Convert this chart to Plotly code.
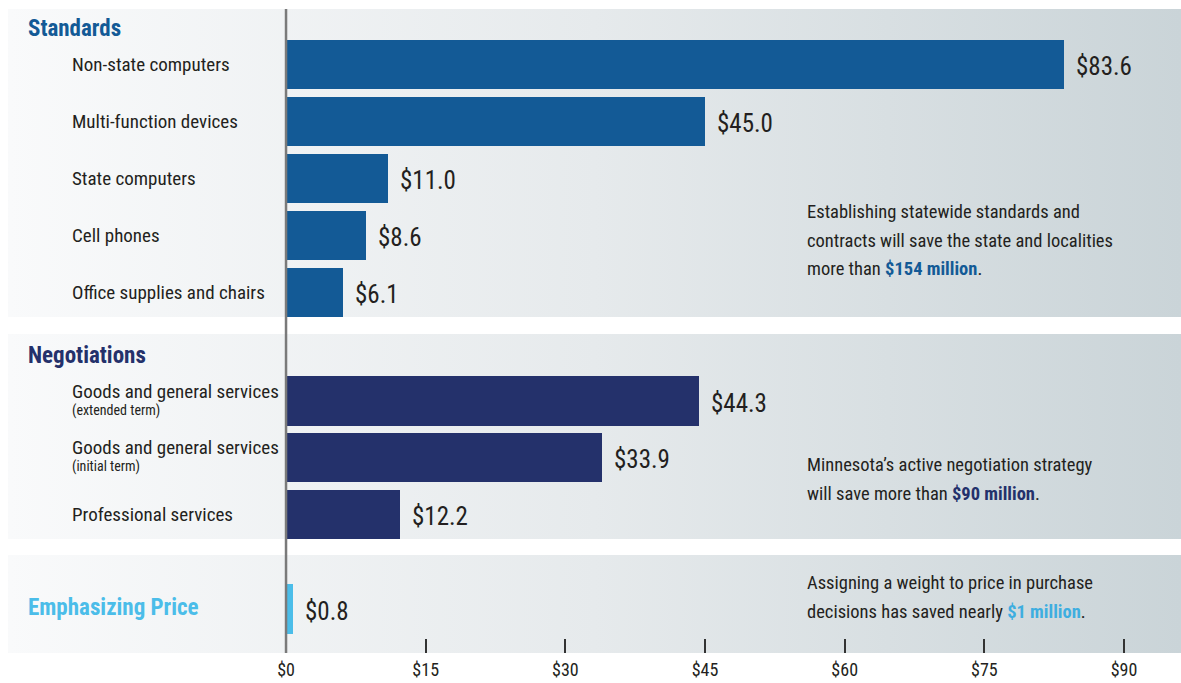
import plotly.graph_objects as go

# ---------------- data ----------------
standards_labels = ["Non-state computers", "Multi-function devices", "State computers",
                    "Cell phones", "Office supplies and chairs"]
standards_values = [83.6, 45.0, 11.0, 8.6, 6.1]

negotiation_labels = ["Goods and general services", "Goods and general services",
                      "Professional services"]
negotiation_sublabels = ["(extended term)", "(initial term)", ""]
negotiation_values = [44.3, 33.9, 12.2]

price_values = [0.8]

tick_values = [0, 15, 30, 45, 60, 75, 90]
tick_labels = ["$0", "$15", "$30", "$45", "$60", "$75", "$90"]

group_titles = ["Standards", "Negotiations", "Emphasizing Price"]
group_notes = [
    ["Establishing statewide standards and",
     "contracts will save the state and localities",
     "more than <b><span style='color:#135a96'>$154 million</span></b>."],
    ["Minnesota\u2019s active negotiation strategy",
     "will save more than <b><span style='color:#24316b'>$90 million</span></b>."],
    ["Assigning a weight to price in purchase",
     "decisions has saved nearly <b><span style='color:#3eaee0'>$1 million</span></b>."],
]

# ---------------- style / layout ----------------
W, H = 1181, 683
FONT = "Liberation Sans Narrow, Roboto Condensed, Arial Narrow, sans-serif"
C_STD, C_NEG, C_PRICE = "#135a96", "#24316b", "#4bbde9"
TXT = "#231f20"

X_MIN, X_MAX = -30.72, 96.12
Y_TOP, Y_BOT = -1.14, 10.316
# row positions (in row units)
std_pos = [0, 1, 2, 3, 4]
neg_pos = [5.895, 6.886, 7.886]
price_pos = [9.544]
title_pos = [-0.632, 5.105, 9.51]
panel_spans = [(-0.982, 4.42), (4.72, 8.316), (8.596, Y_BOT)]
note_pos = [[2.58, 3.09, 3.58], [7.02, 7.53], [9.09, 9.6]]

fig = go.Figure()

# gradient panels (base subplot, drawn underneath)
panel_left = X_MIN + 8 / (W / (X_MAX - X_MIN))
for (y0, y1) in panel_spans:
    fig.add_trace(go.Scatter(
        x=[panel_left, X_MAX, X_MAX, panel_left, panel_left],
        y=[y0, y0, y1, y1, y0],
        mode="none", fill="toself",
        fillgradient=dict(type="horizontal",
                          colorscale=[[0, "#f9fafb"], [0.5, "#e6eaec"], [1, "#cad4d8"]]),
        hoverinfo="skip", showlegend=False, xaxis="x", yaxis="y"))

ann = []

def add_bars(pos, vals, color):
    fig.add_trace(go.Bar(
        y=pos, x=vals, orientation="h", width=0.86,
        marker=dict(color=color, line=dict(width=0)),
        showlegend=False, xaxis="x2", yaxis="y2"))
    for p, v in zip(pos, vals):
        ann.append(dict(text=f"${v:.1f}", x=v, xref="x2", y=p, yref="y2",
                        xanchor="left", yanchor="middle", xshift=10, yshift=-2,
                        showarrow=False, font=dict(family=FONT, size=25, color=TXT)))

add_bars(std_pos, standards_values, C_STD)
add_bars(neg_pos, negotiation_values, C_NEG)
add_bars(price_pos, price_values, C_PRICE)

for t, y, c in zip(group_titles, title_pos, [C_STD, C_NEG, C_PRICE]):
    ann.append(dict(text=f"<b>{t}</b>", x=26 / W, xref="paper", y=y, yref="y",
                    xanchor="left", yanchor="middle", showarrow=False,
                    font=dict(family=FONT, size=23, color=c)))
for lab, y in zip(standards_labels, std_pos):
    ann.append(dict(text=lab, x=70 / W, xref="paper", y=y, yref="y",
                    xanchor="left", yanchor="middle", showarrow=False,
                    font=dict(family=FONT, size=19, color=TXT)))
for lab, sub, y in zip(negotiation_labels, negotiation_sublabels, neg_pos):
    ann.append(dict(text=lab, x=70 / W, xref="paper", y=y, yref="y",
                    xanchor="left", yanchor="middle", showarrow=False,
                    yshift=10 if sub else 0,
                    font=dict(family=FONT, size=19, color=TXT)))
    if sub:
        ann.append(dict(text=sub, x=70 / W, xref="paper", y=y, yref="y",
                        xanchor="left", yanchor="middle", showarrow=False,
                        yshift=-9, font=dict(family=FONT, size=14, color=TXT)))
for lines, ys in zip(group_notes, note_pos):
    for line, y in zip(lines, ys):
        ann.append(dict(text=line, x=805 / W, xref="paper", y=y, yref="y",
                        xanchor="left", yanchor="middle", showarrow=False,
                        font=dict(family=FONT, size=18.5, color=TXT)))

shapes = [dict(type="line", xref="x", yref="y", x0=0, x1=0,
               y0=panel_spans[0][0], y1=Y_BOT,
               line=dict(color="#7a7a7a", width=2.5), layer="above")]

fig.update_layout(
    width=W, height=H, margin=dict(l=0, r=0, t=0, b=30),
    paper_bgcolor="white", plot_bgcolor="white",
    barmode="overlay", bargap=0,
    annotations=ann, shapes=shapes,
    xaxis=dict(range=[X_MIN, X_MAX], tickvals=tick_values, ticktext=tick_labels,
               ticks="inside", ticklen=14, tickwidth=1.5, tickcolor="#333",
               ticklabelstandoff=4,
               showgrid=False, zeroline=False, showline=False,
               tickfont=dict(family=FONT, size=18, color=TXT), fixedrange=True),
    yaxis=dict(range=[Y_BOT, Y_TOP], showticklabels=False, ticks="",
               showgrid=False, zeroline=False, showline=False, fixedrange=True),
    xaxis2=dict(range=[X_MIN, X_MAX], overlaying="x", visible=False, fixedrange=True),
    yaxis2=dict(range=[Y_BOT, Y_TOP], overlaying="y", visible=False, fixedrange=True),
)

fig.write_html("out.html")
